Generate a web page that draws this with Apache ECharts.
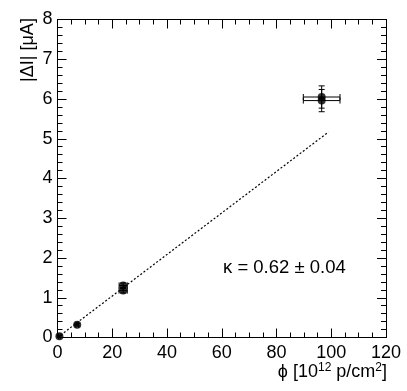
<!DOCTYPE html>
<html>
<head>
<meta charset="utf-8">
<script src="https://cdn.jsdelivr.net/npm/echarts@6/dist/echarts.min.js"></script>
<style>
html, body { margin: 0; padding: 0; background: #fff; }
#container { width: 407px; height: 391px; }
</style>
</head>
<body>
<div id="container"></div>
<script>
// measured points: fluence [10^12 p/cm2] vs |dI| [uA]
var phi = [0.7, 7.2, 24, 24, 96.5, 96.5];
var dI = [0.03, 0.32, 1.18, 1.31, 5.96, 6.05];
var phiErr = [0.3, 0.5, 1.5, 1.5, 6.7, 6.7];
var dIErr = [0.02, 0.03, 0.06, 0.06, 0.28, 0.28];

// linear fit
var fitPhi = [0, 99];
var fitI = [0, 5.17];

var xTicks = [0, 20, 40, 60, 80, 100, 120];
var yTicks = [0, 1, 2, 3, 4, 5, 6, 7, 8];

var dom = document.getElementById("container");
var myChart = echarts.init(dom);

var font = 'Liberation Sans, Arial, sans-serif';

var points = [];
for (var i = 0; i < phi.length; i++) {
    points.push([phi[i], dI[i], phiErr[i], dIErr[i]]);
}
var fitData = [];
for (var j = 0; j < fitPhi.length; j++) {
    fitData.push([fitPhi[j], fitI[j]]);
}

function errorBar(params, api) {
    var x = api.value(0), y = api.value(1);
    var ex = api.value(2), ey = api.value(3);
    var c = api.coord([x, y]);
    var l = api.coord([x - ex, y]);
    var r = api.coord([x + ex, y]);
    var t = api.coord([x, y + ey]);
    var b = api.coord([x, y - ey]);
    var s = { stroke: '#000', lineWidth: 1 };
    var cap = 3;
    return {
        type: 'group',
        children: [
            { type: 'line', shape: { x1: l[0], y1: c[1], x2: r[0], y2: c[1] }, style: s },
            { type: 'line', shape: { x1: c[0], y1: t[1], x2: c[0], y2: b[1] }, style: s },
            { type: 'line', shape: { x1: l[0], y1: c[1] - cap, x2: l[0], y2: c[1] + cap }, style: s },
            { type: 'line', shape: { x1: r[0], y1: c[1] - cap, x2: r[0], y2: c[1] + cap }, style: s },
            { type: 'line', shape: { x1: c[0] - cap, y1: t[1], x2: c[0] + cap, y2: t[1] }, style: s },
            { type: 'line', shape: { x1: c[0] - cap, y1: b[1], x2: c[0] + cap, y2: b[1] }, style: s }
        ]
    };
}

function axisLine() {
    return { show: true, onZero: false, lineStyle: { color: '#000', width: 1 } };
}

var option = {
    animation: false,
    backgroundColor: '#fff',
    grid: { left: 57.5, right: 21, top: 19.5, bottom: 53.5, containLabel: false },
    xAxis: [
        {
            type: 'value', min: xTicks[0], max: xTicks[xTicks.length - 1], interval: 20,
            axisLine: axisLine(),
            axisTick: { inside: true, length: 9, lineStyle: { color: '#000' } },
            minorTick: { show: true, splitNumber: 4, length: 5, lineStyle: { color: '#000' } },
            splitLine: { show: false },
            axisLabel: { margin: 7, color: '#000', fontSize: 18, fontFamily: font }
        },
        {
            type: 'value', position: 'top', min: xTicks[0], max: xTicks[xTicks.length - 1], interval: 20,
            axisLine: axisLine(),
            axisTick: { inside: true, length: 9, lineStyle: { color: '#000' } },
            minorTick: { show: true, splitNumber: 4, length: 5, lineStyle: { color: '#000' } },
            splitLine: { show: false },
            axisLabel: { show: false }
        }
    ],
    yAxis: [
        {
            type: 'value', min: yTicks[0], max: yTicks[yTicks.length - 1], interval: 1,
            axisLine: axisLine(),
            axisTick: { inside: true, length: 9, lineStyle: { color: '#000' } },
            minorTick: { show: true, splitNumber: 5, length: 5, lineStyle: { color: '#000' } },
            splitLine: { show: false },
            axisLabel: { margin: 5, color: '#000', fontSize: 18, fontFamily: font }
        },
        {
            type: 'value', position: 'right', min: yTicks[0], max: yTicks[yTicks.length - 1], interval: 1,
            axisLine: axisLine(),
            axisTick: { inside: true, length: 9, lineStyle: { color: '#000' } },
            minorTick: { show: true, splitNumber: 5, length: 5, lineStyle: { color: '#000' } },
            splitLine: { show: false },
            axisLabel: { show: false }
        }
    ],
    graphic: [
        {
            type: 'text', left: 223, top: 258,
            style: { text: 'κ = 0.62 ± 0.04', fontSize: 18.5, fontFamily: font, fill: '#000' }
        },
        {
            type: 'text', right: 20, top: 362,
            style: {
                text: 'ϕ [10{sup|12} p/cm{sup|2}]',
                rich: { sup: { fontSize: 12, verticalAlign: 'top', padding: [0, 0, 8, 0], fontFamily: font } },
                fontSize: 18, fontFamily: font, fill: '#000'
            }
        },
        {
            type: 'text', x: 28, y: 50, rotation: Math.PI / 2,
            style: {
                text: '|ΔI| [μA]', fontSize: 18, fontFamily: font, fill: '#000',
                align: 'center', verticalAlign: 'middle'
            }
        }
    ],
    series: [
        {
            type: 'line', data: fitData, showSymbol: false, silent: true,
            lineStyle: { color: '#000', width: 1.2, type: [2, 2] }
        },
        {
            type: 'custom', renderItem: errorBar, data: points, silent: true, z: 3
        },
        {
            type: 'scatter', data: points, symbol: 'circle', symbolSize: 8,
            itemStyle: { color: '#000' }, z: 4
        }
    ]
};

myChart.setOption(option);
</script>
</body>
</html>
